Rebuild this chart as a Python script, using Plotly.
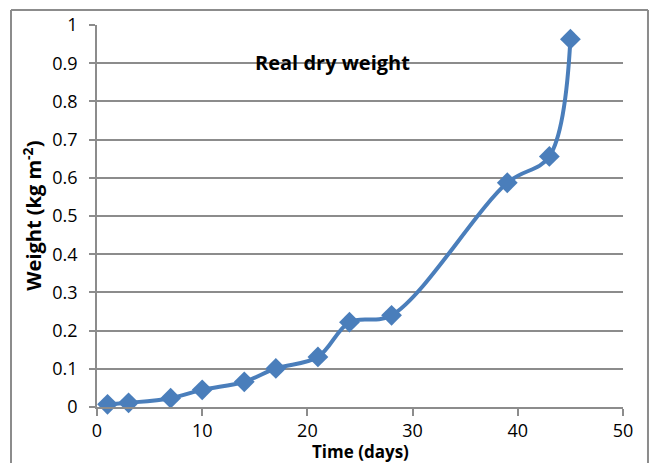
import plotly.graph_objects as go

# data
days = [1, 3, 7, 10, 14, 17, 21, 24, 28, 39, 43, 45]
weight = [0.007, 0.011, 0.023, 0.045, 0.066, 0.101, 0.131, 0.222, 0.240, 0.587, 0.656, 0.963]

x_ticks = [0, 10, 20, 30, 40, 50]
y_ticks = [0, 0.1, 0.2, 0.3, 0.4, 0.5, 0.6, 0.7, 0.8, 0.9, 1]
y_labels = ["0", "0.1", "0.2", "0.3", "0.4", "0.5", "0.6", "0.7", "0.8", "0.9", "1"]

blue = "#4a7ebb"
grid = "#8c8c8c"

fig = go.Figure(go.Scatter(
    x=days,
    y=weight,
    mode="lines+markers",
    line=dict(color=blue, width=4, shape="spline", smoothing=1.0),
    marker=dict(symbol="diamond", size=16, color=blue),
    showlegend=False,
    cliponaxis=False,
))

# outer chart frame (top, left, right edges; bottom runs off the picture)
frame = dict(xref="paper", yref="paper", layer="below", line=dict(color=grid, width=2))
fx0, fx1, fy0, fy1 = -0.1635, 1.0475, -0.2, 1.0395

fig.update_layout(
    width=655,
    height=463,
    margin=dict(l=97, r=32, t=20, b=56),
    paper_bgcolor="white",
    plot_bgcolor="white",
    font=dict(family="Open Sans, Liberation Sans, sans-serif", size=18, color="#000000"),
    annotations=[
        dict(text="<b>Real dry weight</b>",
             x=0.447, y=0.943, xref="paper", yref="paper",
             showarrow=False, font=dict(size=20)),
        dict(text="<b>Time (days)</b>",
             x=0.5, y=-0.117, xref="paper", yref="paper", yanchor="middle",
             showarrow=False, font=dict(size=17)),
        dict(text="<b>Weight (kg m<sup>-2</sup>)</b>", textangle=-90,
             x=-0.124, y=0.5, xref="paper", yref="paper",
             xanchor="center", yanchor="middle",
             showarrow=False, font=dict(size=20)),
    ],
    shapes=[
        dict(type="line", x0=fx0, x1=fx1, y0=fy1, y1=fy1, **frame),
        dict(type="line", x0=fx0, x1=fx0, y0=fy0, y1=fy1, **frame),
        dict(type="line", x0=fx1, x1=fx1, y0=fy0, y1=fy1, **frame),
    ],
)

fig.update_xaxes(
    range=[0, 50],
    tickvals=x_ticks,
    ticks="outside", ticklen=7, tickcolor=grid, tickwidth=1.5,
    showline=True, linecolor=grid, linewidth=1.5,
    showgrid=False, zeroline=False,
    ticklabeloverflow="allow",
)

fig.update_yaxes(
    range=[0, 1],
    tickvals=y_ticks, ticktext=y_labels,
    ticks="outside", ticklen=6, tickcolor=grid, tickwidth=1.5,
    showline=True, linecolor=grid, linewidth=1.5,
    showgrid=True, gridcolor=grid, gridwidth=1.5,
    zeroline=False,
    ticklabelstandoff=8,
    ticklabeloverflow="allow",
)

# drop the default 8px page margin so the figure fills the window
fig.write_html("out.html", config={"displayModeBar": False},
               post_script="document.body.style.margin='0';")
